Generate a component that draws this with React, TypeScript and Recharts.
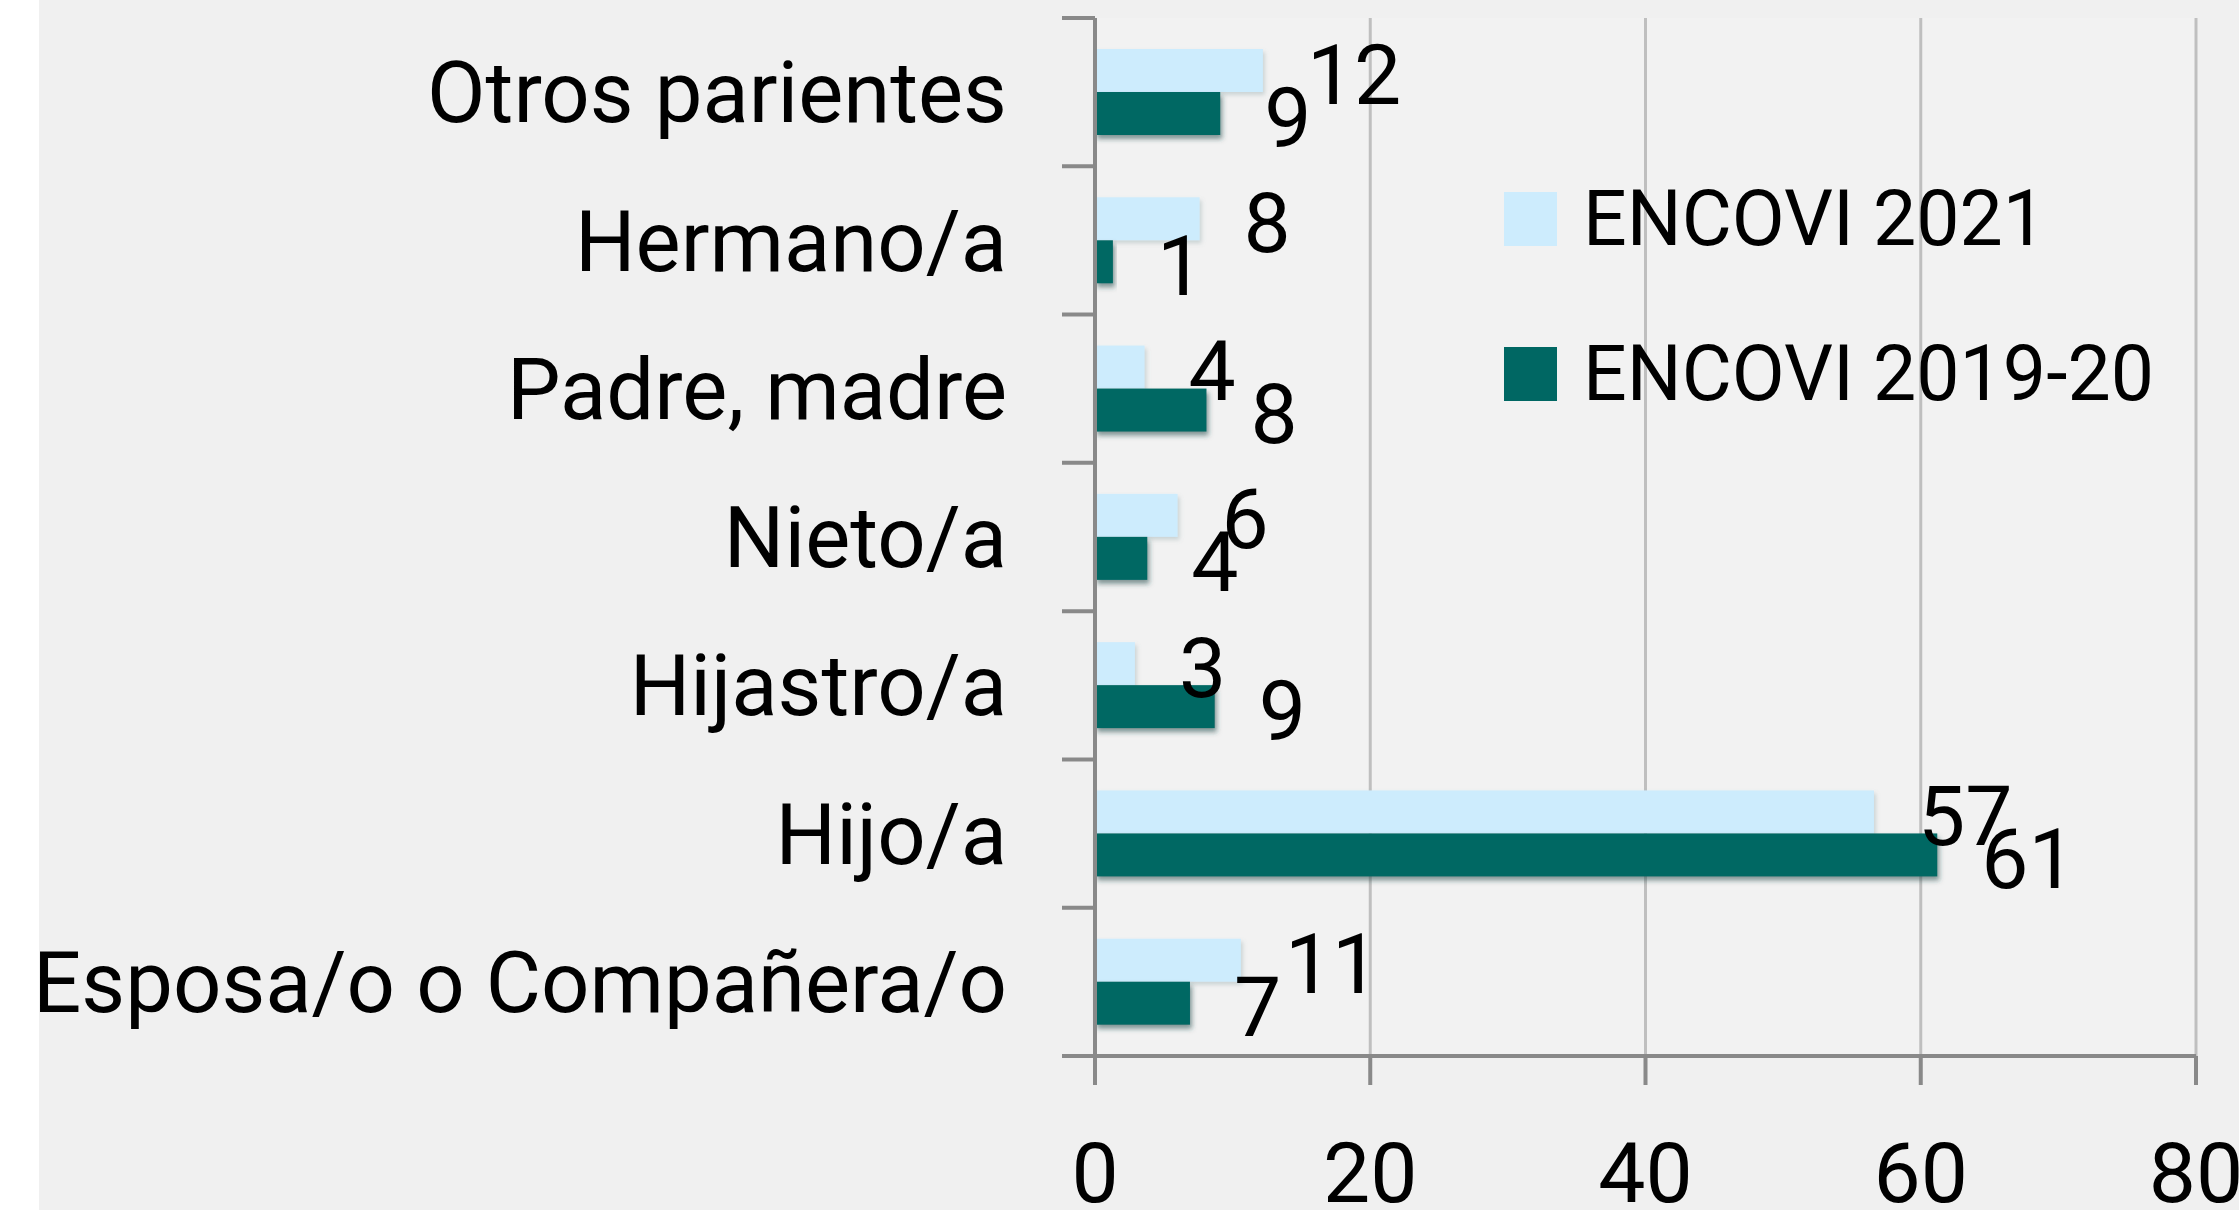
import { BarChart, Bar, XAxis, YAxis, CartesianGrid, Legend, LabelList } from "recharts";

// categories, top to bottom as drawn
const CATEGORIES = [
    "Otros parientes",
    "Hermano/a",
    "Padre, madre",
    "Nieto/a",
    "Hijastro/a",
    "Hijo/a",
    "Esposa/o o Compañera/o",
];
// bar lengths (labels show them rounded)
const ENCOVI_2021 = [12.2, 7.6, 3.6, 6.0, 2.9, 56.6, 10.6];
const ENCOVI_2019_20 = [9.1, 1.3, 8.1, 3.8, 8.7, 61.2, 6.9];
const SERIES_NAMES = ["ENCOVI 2021", "ENCOVI 2019-20"];
const X_TICKS = [0, 20, 40, 60, 80];

const data = CATEGORIES.map((name, i) => ({
    name,
    e2021: ENCOVI_2021[i],
    e2019: ENCOVI_2019_20[i],
}));

const FONT = "Roboto, sans-serif";
const AXIS = "#898989";
const LIGHT = "#cdecfd";
const DARK = "#006763";

const W = 2200;
const H = 1210;
const MARGIN = { top: 18, right: 43, bottom: 0, left: 0 };
const Y_AXIS_W = 1056;
const X_AXIS_H = 154;
const BAND = (H - MARGIN.top - X_AXIS_H) / CATEGORIES.length;

function CategoryTick(props: any) {
    const { x, y, payload, index } = props;
    const half = BAND / 2;
    return (
        <g>
            <line x1={x - 33} x2={x} y1={y - half} y2={y - half} stroke={AXIS} strokeWidth={4} />
            {index === CATEGORIES.length - 1 && (
                <line x1={x - 33} x2={x} y1={y + half} y2={y + half} stroke={AXIS} strokeWidth={4} />
            )}
            <text x={x - 88} y={y} dy="0.355em" textAnchor="end" fontSize={85} fontFamily={FONT} fill="#000">
                {payload.value}
            </text>
        </g>
    );
}

function ValueTick(props: any) {
    const { x, y, payload } = props;
    return (
        <text x={x} y={y + 115} textAnchor="middle" fontSize={84} fontFamily={FONT} fill="#000">
            {payload.value}
        </text>
    );
}

function BarLabel(props: any) {
    const { x, y, width, height, value } = props;
    return (
        <text x={x + width + 44} y={y + height / 2 + 33} fontSize={84} fontFamily={FONT} fill="#000">
            {Math.round(value)}
        </text>
    );
}

const LightBar = (p: any) => (
    <rect x={p.x} y={p.y} width={p.width} height={p.height} fill={LIGHT} filter="url(#shLight)" />
);
const DarkBar = (p: any) => (
    <rect x={p.x} y={p.y} width={p.width} height={p.height} fill={DARK} filter="url(#shDark)" />
);

function LegendContent({ payload }: any) {
    const items = [...(payload || [])].sort(
        (a: any, b: any) => SERIES_NAMES.indexOf(a.value) - SERIES_NAMES.indexOf(b.value)
    );
    return (
        <div style={{ display: "flex", flexDirection: "column", gap: 101 }}>
            {items.map((item: any) => (
                <div key={item.value} style={{ display: "flex", alignItems: "center", height: 54 }}>
                    <div style={{ width: 53, height: 54, background: item.color, marginRight: 26 }} />
                    <span
                        style={{
                            fontSize: 77,
                            lineHeight: "54px",
                            fontFamily: FONT,
                            color: "#000",
                            whiteSpace: "nowrap",
                        }}
                    >
                        {item.value}
                    </span>
                </div>
            ))}
        </div>
    );
}

export default function App() {
    return (
        <div style={{ position: "absolute", left: 0, top: 0, width: 2239, height: H, background: "#fff" }}>
            <div style={{ position: "absolute", left: 39, top: 0, width: W, height: H, background: "#f0f0f0" }}>
                <BarChart width={W} height={H} data={data} layout="vertical" margin={MARGIN} barGap={0} barSize={43}>
                    <defs>
                        <filter id="shDark" x="-10%" y="-40%" width="130%" height="190%">
                            <feDropShadow dx="2" dy="4" stdDeviation="2.5" floodColor="#1d4a48" floodOpacity="0.55" />
                        </filter>
                        <filter id="shLight" x="-10%" y="-40%" width="130%" height="190%">
                            <feDropShadow dx="2" dy="3" stdDeviation="2" floodColor="#6f8a90" floodOpacity="0.3" />
                        </filter>
                    </defs>
                    <CartesianGrid horizontal={false} stroke="#bfbfbf" strokeWidth={3} fill="#f2f2f2" />
                    <XAxis
                        type="number"
                        domain={[0, 80]}
                        ticks={X_TICKS}
                        interval={0}
                        height={X_AXIS_H}
                        stroke={AXIS}
                        axisLine={{ stroke: AXIS, strokeWidth: 4 }}
                        tickLine={{ stroke: AXIS, strokeWidth: 4 }}
                        tickSize={29}
                        tickMargin={2}
                        tick={<ValueTick />}
                    />
                    <YAxis
                        type="category"
                        dataKey="name"
                        width={Y_AXIS_W}
                        interval={0}
                        axisLine={{ stroke: AXIS, strokeWidth: 4 }}
                        tickLine={false}
                        tickSize={0}
                        tickMargin={0}
                        tick={<CategoryTick />}
                    />
                    <Legend
                        layout="vertical"
                        align="center"
                        verticalAlign="middle"
                        content={<LegendContent />}
                        wrapperStyle={{ left: 1465, top: 192, width: 740, height: 270 }}
                    />
                    <Bar dataKey="e2021" name={SERIES_NAMES[0]} fill={LIGHT} shape={LightBar} isAnimationActive={false}>
                        <LabelList dataKey="e2021" content={BarLabel} />
                    </Bar>
                    <Bar dataKey="e2019" name={SERIES_NAMES[1]} fill={DARK} shape={DarkBar} isAnimationActive={false}>
                        <LabelList dataKey="e2019" content={BarLabel} />
                    </Bar>
                </BarChart>
            </div>
        </div>
    );
}
